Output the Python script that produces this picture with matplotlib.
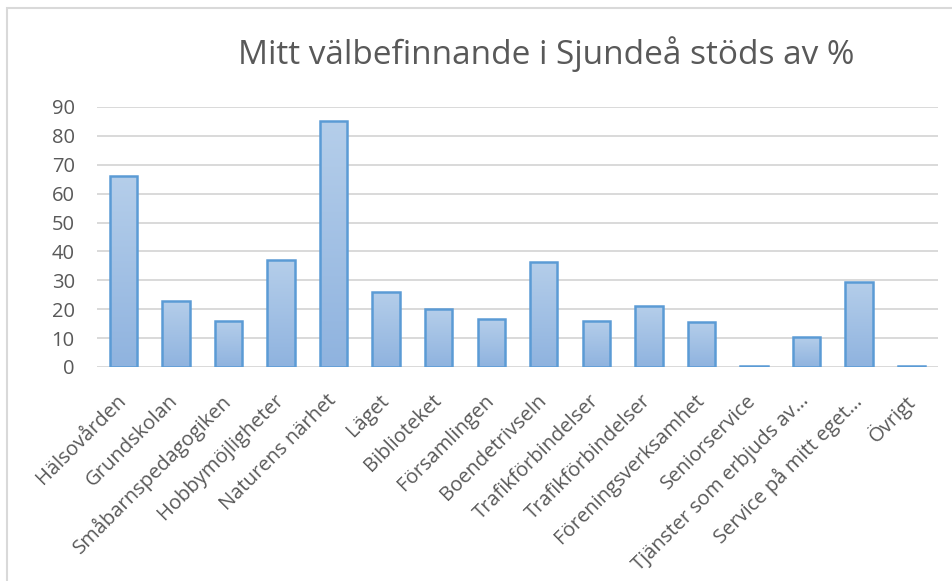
import numpy as np
import matplotlib
matplotlib.use("Agg")
import matplotlib.pyplot as plt
from matplotlib.patches import Rectangle
from matplotlib.transforms import ScaledTranslation

categories = [
    "Hälsovården", "Grundskolan", "Småbarnspedagogiken", "Hobbymöjligheter",
    "Naturens närhet", "Läget", "Biblioteket", "Församlingen", "Boendetrivseln",
    "Trafikförbindelser", "Trafikförbindelser", "Föreningsverksamhet",
    "Seniorservice", "Tjänster som erbjuds av…", "Service på mitt eget…", "Övrigt",
]
values = [66, 23, 16, 37, 85, 26, 20, 16.5, 36.5, 16, 21, 15.6, 0.3, 10.4, 29.5, 0.3]
yticks = [0, 10, 20, 30, 40, 50, 60, 70, 80, 90]
title = "Mitt välbefinnande i Sjundeå stöds av %"

TEXT = "#595959"
GRID = "#D9D9D9"
EDGE = "#5B9BD5"

plt.rcParams["font.family"] = ["Open Sans", "DejaVu Sans"]

fig = plt.figure(figsize=(9.53, 5.81), dpi=100)
ax = fig.add_axes([97 / 953, 1 - 367 / 581, (938 - 97) / 953, (367 - 107) / 581])

# light chart-area frame like the Excel export
fig.patches.append(Rectangle((7 / 953, -0.1), 1.2, 1 - 8 / 581 + 0.1,
                             transform=fig.transFigure, fill=False,
                             edgecolor=GRID, lw=1.5))

x = np.arange(len(categories))
bars = ax.bar(x, values, width=0.52, color="none", edgecolor=EDGE, lw=1.8, zorder=3)

# vertical gradient fill clipped to each bar
grad = np.linspace(0, 1, 256).reshape(-1, 1)
cmap = matplotlib.colors.LinearSegmentedColormap.from_list("g", ["#8FB3DF", "#B5CEEA"])
for b in bars:
    x0, y0 = b.get_x(), b.get_y()
    w, h = b.get_width(), b.get_height()
    im = ax.imshow(grad, extent=[x0, x0 + w, y0, y0 + h], origin="lower",
                   cmap=cmap, aspect="auto", zorder=2)
    im.set_clip_path(b)

ax.set_xlim(-0.5, len(categories) - 0.5)
ax.set_ylim(0, 90)
ax.set_yticks(yticks)
ax.yaxis.grid(True, color=GRID, lw=1.4, zorder=0)
ax.set_axisbelow(True)
for s in ax.spines.values():
    s.set_visible(False)
ax.tick_params(axis="both", length=0, colors=TEXT, labelsize=14.5)
ax.tick_params(axis="y", pad=16)
ax.tick_params(axis="x", pad=17)
ax.set_xticks(x)
ax.set_xticklabels(categories, rotation=45, ha="right", va="top",
                   rotation_mode="anchor", color=TEXT, fontsize=14.5)
shift = ScaledTranslation(-5.5 / 72, 0, fig.dpi_scale_trans)
for lab in ax.get_xticklabels():
    lab.set_transform(lab.get_transform() + shift)

fig.text(546 / 953, 1 - 54 / 581, title, ha="center", va="center",
         fontsize=24, color=TEXT)

fig.savefig("out.png", dpi=100)
